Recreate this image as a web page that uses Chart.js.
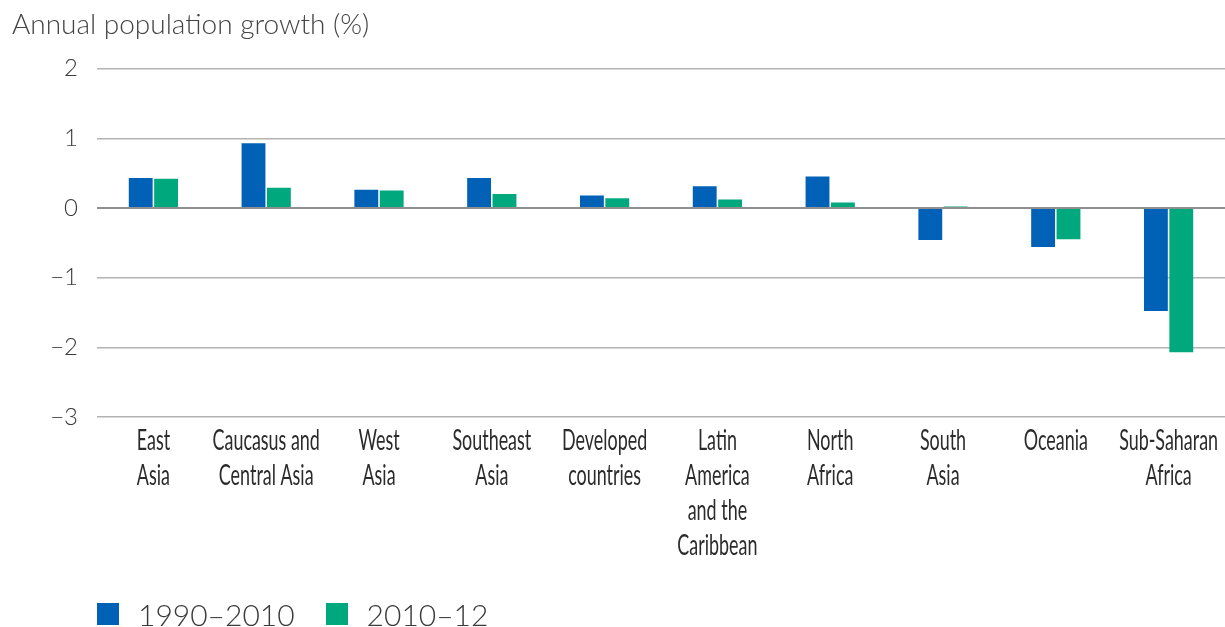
<!DOCTYPE html>
<html>
<head>
<meta charset="utf-8">
<script src="https://cdn.jsdelivr.net/npm/chart.js@4/dist/chart.umd.min.js"></script>
<style>
  html, body { margin: 0; padding: 0; background: #fff; }
  #wrap { position: relative; width: 1225px; height: 627px; }
  #legend { position: absolute; left: 97px; top: 596px; display: flex; align-items: center;
            font-family: Lato, 'Open Sans', sans-serif; font-weight: 300; font-size: 30px; color: #3a3a3a; }
  .item { display: flex; align-items: center; margin-right: 31px; }
  .sw { width: 22px; height: 22px; margin-right: 19px; }
</style>
</head>
<body>
<div id="wrap">
  <canvas id="c" width="1225" height="627"></canvas>
  <div id="legend"></div>
</div>
<script>
const categories = [
  ['East', 'Asia'],
  ['Caucasus and', 'Central Asia'],
  ['West', 'Asia'],
  ['Southeast', 'Asia'],
  ['Developed', 'countries'],
  ['Latin', 'America', 'and the', 'Caribbean'],
  ['North', 'Africa'],
  ['South', 'Asia'],
  ['Oceania'],
  ['Sub-Saharan', 'Africa']
];
const seriesNames = ['1990\u20132010', '2010\u201312'];
const values1990_2010 = [0.43, 0.93, 0.26, 0.43, 0.18, 0.31, 0.45, -0.46, -0.56, -1.48];
const values2010_12 = [0.42, 0.29, 0.25, 0.20, 0.14, 0.12, 0.08, 0.02, -0.45, -2.07];
const seriesColors = ['#0061B7', '#00A87E'];
const yTicks = [2, 1, 0, -1, -2, -3];
const titleText = 'Annual population growth (%)';

const lightFont = "Lato, 'Open Sans', sans-serif";
const labelFont = "Lato, 'Open Sans', sans-serif";
const labelSqueeze = 0.64; // horizontal compression to imitate a condensed face

// Draw the category tick labels horizontally condensed, at the positions the x scale computes.
function condensedLabels(chartArea) {
  const ctx = this.ctx;
  const items = this.getLabelItems(chartArea);
  for (const item of items) {
    const o = item.options;
    const lines = Array.isArray(item.label) ? item.label : [item.label];
    ctx.save();
    ctx.translate(o.translation[0], o.translation[1]);
    ctx.scale(labelSqueeze, 1);
    ctx.font = item.font.string;
    ctx.fillStyle = o.color;
    ctx.textAlign = 'center';
    ctx.textBaseline = o.textBaseline || 'middle';
    lines.forEach((ln, i) => ctx.fillText(ln, 0, item.textOffset + i * item.font.lineHeight));
    ctx.restore();
  }
}

new Chart(document.getElementById('c'), {
  type: 'bar',
  data: {
    labels: categories,
    datasets: [
      { label: seriesNames[0], data: values1990_2010, backgroundColor: seriesColors[0], borderWidth: 0 },
      { label: seriesNames[1], data: values2010_12, backgroundColor: seriesColors[1], borderWidth: 0 }
    ]
  },
  options: {
    responsive: false,
    devicePixelRatio: 1,
    animation: false,
    layout: { padding: { left: 12, right: 0, top: 0, bottom: 58 } },
    datasets: { bar: { categoryPercentage: 0.45, barPercentage: 0.94 } },
    plugins: {
      legend: { display: false },
      tooltip: { enabled: false },
      title: {
        display: true, text: titleText, align: 'start', color: '#444',
        font: { family: lightFont, weight: 300, size: 28 },
        padding: { top: 8, bottom: 27 }
      }
    },
    scales: {
      x: {
        afterUpdate: (s) => { s.drawLabels = condensedLabels; },
        afterFit: (s) => { s.paddingLeft = 0; s.paddingRight = 0; },
        grid: { display: false, drawTicks: false },
        border: { display: false },
        ticks: {
          color: '#2b2b2b', padding: 6, maxRotation: 0, autoSkip: false,
          font: { family: labelFont, size: 28, lineHeight: '35px' }
        }
      },
      y: {
        min: -3, max: 2,
        afterFit: (s) => { s.width = 85; },
        afterBuildTicks: (s) => { s.ticks = yTicks.map(v => ({ value: v })); },
        border: { display: false },
        grid: {
          drawTicks: false,
          color: (ctx) => ctx.tick && ctx.tick.value === 0 ? '#8f8f8f' : '#b3b3b3',
          lineWidth: (ctx) => ctx.tick && ctx.tick.value === 0 ? 2 : 1.5
        },
        ticks: {
          color: '#3a3a3a', padding: 19,
          font: { family: lightFont, weight: 300, size: 24 },
          callback: (v) => String(v).replace('-', '\u2212')
        }
      }
    }
  }
});

const leg = document.getElementById('legend');
seriesNames.forEach((n, i) => {
  const it = document.createElement('div'); it.className = 'item';
  const sw = document.createElement('div'); sw.className = 'sw'; sw.style.background = seriesColors[i];
  const tx = document.createElement('span'); tx.textContent = n;
  it.appendChild(sw); it.appendChild(tx); leg.appendChild(it);
});
</script>
</body>
</html>
